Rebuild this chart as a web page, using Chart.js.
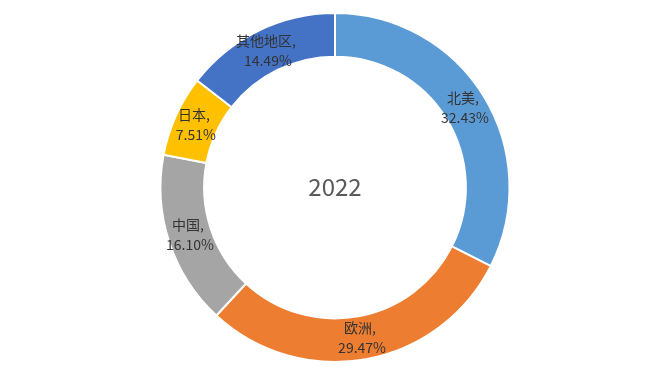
<!DOCTYPE html>
<html>
<head>
  <meta charset="utf-8">
  <title>2022</title>
  <style>
    body {
      margin: 0;
      background: #fff;
    }
    .chart-box {
      width: 645px;
      height: 385px;
      position: relative;
    }
  </style>
</head>
<body>
  <div class="chart-box">
    <canvas id="ringChart"></canvas>
  </div>

  <script src="https://cdn.jsdelivr.net/npm/chart.js"></script>
  <script>
    const regions = ['北美', '欧洲', '中国', '日本', '其他地区'];
    const shares = [32.43, 29.47, 16.10, 7.51, 14.49];
    const sliceColors = ['#5B9BD5', '#ED7D31', '#A5A5A5', '#FFC000', '#4472C4'];
    const centerTitle = '2022';

    const fontFamily = "'Noto Sans CJK SC', 'Noto Sans', sans-serif";

    // labels inside each slice + year in the middle
    const ringLabels = {
      id: 'ringLabels',
      afterDatasetsDraw(chart) {
        const ctx = chart.ctx;
        const meta = chart.getDatasetMeta(0);
        ctx.save();
        ctx.textAlign = 'center';
        ctx.textBaseline = 'middle';
        ctx.fillStyle = '#333333';
        ctx.font = '14px ' + fontFamily;
        meta.data.forEach((arc, i) => {
          const p = arc.getCenterPoint();
          ctx.fillText(regions[i] + ',', p.x - 2, p.y - 10);
          ctx.fillText(shares[i].toFixed(2) + '%', p.x, p.y + 10);
        });
        const first = meta.data[0];
        ctx.fillStyle = '#595959';
        ctx.font = '24px ' + fontFamily;
        ctx.fillText(centerTitle, first.x, first.y - 1);
        ctx.restore();
      }
    };

    new Chart(document.getElementById('ringChart'), {
      type: 'doughnut',
      data: {
        labels: regions,
        datasets: [{
          data: shares,
          backgroundColor: sliceColors,
          borderColor: '#fff',
          borderWidth: 2
        }]
      },
      options: {
        responsive: true,
        maintainAspectRatio: false,
        animation: false,
        cutout: '75%',
        layout: {
          padding: { top: 12, bottom: 22, left: 25, right: 0 }
        },
        plugins: {
          legend: { display: false },
          tooltip: { enabled: false }
        }
      },
      plugins: [ringLabels]
    });
  </script>
</body>
</html>
